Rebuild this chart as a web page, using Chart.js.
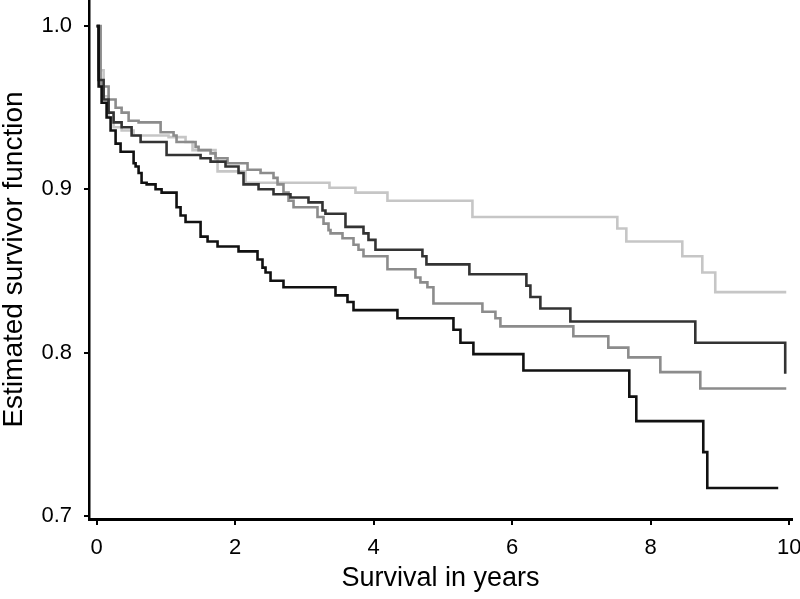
<!DOCTYPE html>
<html>
<head>
<meta charset="utf-8">
<script src="https://cdn.jsdelivr.net/npm/chart.js@4.4.0/dist/chart.umd.min.js"></script>
<style>
html,body{margin:0;padding:0;background:#fff;}
#wrap{width:800px;height:599px;}
canvas{display:block;}
</style>
</head>
<body>
<div id="wrap"><canvas id="c" width="800" height="599"></canvas></div>
<script>
// ---- Data ----
const xTicks = [0, 2, 4, 6, 8, 10];
const yTicks = [0.7, 0.8, 0.9, 1.0];
const xTitle = "Survival in years";
const yTitle = "Estimated survivor function";

// Group 1 (black, lowest curve)
const blackT = [0, 0.029, 0.072, 0.144, 0.202, 0.274, 0.346, 0.534, 0.563, 0.606, 0.649, 0.722, 0.851, 0.938, 1.154, 1.212, 1.284, 1.501, 1.602, 1.746, 2.049, 2.323, 2.395, 2.439, 2.511, 2.698, 3.449, 3.622, 3.709, 4.343, 5.152, 5.253, 5.440, 6.162, 7.691, 7.792, 8.759, 8.817, 9.841];
const blackS = [1.0, 0.963, 0.953, 0.944, 0.936, 0.928, 0.923, 0.916, 0.914, 0.910, 0.904, 0.903, 0.900, 0.898, 0.889, 0.884, 0.880, 0.871, 0.868, 0.865, 0.862, 0.857, 0.852, 0.849, 0.844, 0.840, 0.835, 0.831, 0.826, 0.821, 0.814, 0.806, 0.799, 0.789, 0.773, 0.758, 0.739, 0.717, 0.717];

// Group 2 (dark grey)
const darkT = [0, 0.029, 0.101, 0.173, 0.245, 0.361, 0.505, 0.635, 1.010, 1.501, 1.645, 1.861, 2.049, 2.121, 2.338, 2.554, 2.799, 3.059, 3.261, 3.304, 3.593, 3.853, 3.925, 4.026, 4.704, 4.762, 5.382, 6.205, 6.263, 6.407, 6.840, 8.644, 9.942];
const darkS = [1.0, 0.967, 0.955, 0.947, 0.941, 0.938, 0.933, 0.929, 0.921, 0.919, 0.917, 0.914, 0.910, 0.903, 0.900, 0.897, 0.895, 0.892, 0.887, 0.885, 0.877, 0.873, 0.869, 0.863, 0.859, 0.854, 0.848, 0.841, 0.834, 0.827, 0.819, 0.806, 0.787];

// Group 3 (medium grey)
const medT = [0, 0.058, 0.173, 0.274, 0.361, 0.462, 0.606, 0.924, 1.111, 1.154, 1.429, 1.472, 1.645, 1.717, 1.890, 2.179, 2.367, 2.554, 2.612, 2.698, 2.771, 2.843, 3.189, 3.276, 3.348, 3.377, 3.550, 3.709, 3.781, 3.853, 4.199, 4.603, 4.675, 4.776, 4.863, 5.570, 5.758, 5.830, 6.883, 7.388, 7.677, 8.139, 8.716, 9.957];
const medS = [1.0, 0.963, 0.955, 0.950, 0.947, 0.942, 0.941, 0.935, 0.933, 0.929, 0.926, 0.924, 0.922, 0.919, 0.916, 0.912, 0.910, 0.907, 0.903, 0.898, 0.893, 0.889, 0.883, 0.879, 0.875, 0.873, 0.870, 0.866, 0.863, 0.859, 0.851, 0.846, 0.843, 0.840, 0.830, 0.825, 0.821, 0.816, 0.810, 0.803, 0.797, 0.788, 0.778, 0.778];

// Group 4 (light grey, highest curve)
const lightT = [0, 0.029, 0.101, 0.173, 0.245, 0.361, 0.534, 1.039, 1.284, 1.385, 1.717, 1.746, 2.150, 3.362, 3.737, 4.199, 5.426, 7.518, 7.648, 8.456, 8.745, 8.932, 9.957];
const lightS = [1.0, 0.973, 0.957, 0.944, 0.938, 0.936, 0.933, 0.932, 0.929, 0.924, 0.919, 0.911, 0.904, 0.901, 0.898, 0.893, 0.883, 0.876, 0.868, 0.859, 0.849, 0.837, 0.837];

// ---- Styles ----
const FONT = "'Liberation Sans', Arial, Helvetica, sans-serif";
const mk = (T, S) => T.map((t, i) => ({ x: t, y: S[i] }));
const line = (T, S, color) => ({
  data: mk(T, S),
  borderColor: color,
  backgroundColor: color,
  borderWidth: 2.6,
  stepped: true,
  pointRadius: 0,
  fill: false,
  tension: 0,
  borderCapStyle: 'butt',
  borderJoinStyle: 'miter'
});

new Chart(document.getElementById('c'), {
  type: 'line',
  data: {
    datasets: [
      line(blackT, blackS, '#111111'),
      line(darkT, darkS, '#333333'),
      line(medT, medS, '#8c8c8c'),
      line(lightT, lightS, '#c6c6c6')
    ]
  },
  options: {
    responsive: false,
    animation: false,
    devicePixelRatio: 1,
    layout: { padding: { left: 0, right: 8, top: 0, bottom: 0 } },
    plugins: { legend: { display: false }, tooltip: { enabled: false } },
    scales: {
      x: {
        type: 'linear',
        min: -0.11,
        max: 10.04,
        grid: { display: true, drawOnChartArea: false, drawTicks: true, tickLength: 6, color: '#000', lineWidth: 2 },
        border: { display: true, color: '#000', width: 3 },
        ticks: { font: { family: FONT, size: 22 }, color: '#000', padding: 10, maxRotation: 0, autoSkip: false },
        afterBuildTicks: s => { s.ticks = xTicks.map(v => ({ value: v })); },
        afterFit: s => { s.height = 80; s.paddingLeft = 0; s.paddingRight = 0; },
        title: { display: true, text: xTitle, color: '#000', font: { family: FONT, size: 27, lineHeight: 1 }, padding: { top: 0, bottom: 7 } }
      },
      y: {
        type: 'linear',
        min: 0.698,
        max: 1.016,
        grid: { display: true, drawOnChartArea: false, drawTicks: true, tickLength: 5, color: '#000', lineWidth: 2 },
        border: { display: true, color: '#000', width: 2.5 },
        ticks: { font: { family: FONT, size: 22 }, color: '#000', padding: 12, autoSkip: false, callback: v => Number(v).toFixed(1) },
        afterBuildTicks: s => { s.ticks = yTicks.map(v => ({ value: v })); },
        afterFit: s => { s.width = 89; s.paddingTop = 0; s.paddingBottom = 0; },
        title: { display: true, text: yTitle, color: '#000', font: { family: FONT, size: 28, lineHeight: 1 }, padding: { top: 0, bottom: 0 } }
      }
    }
  }
});
</script>
</body>
</html>
